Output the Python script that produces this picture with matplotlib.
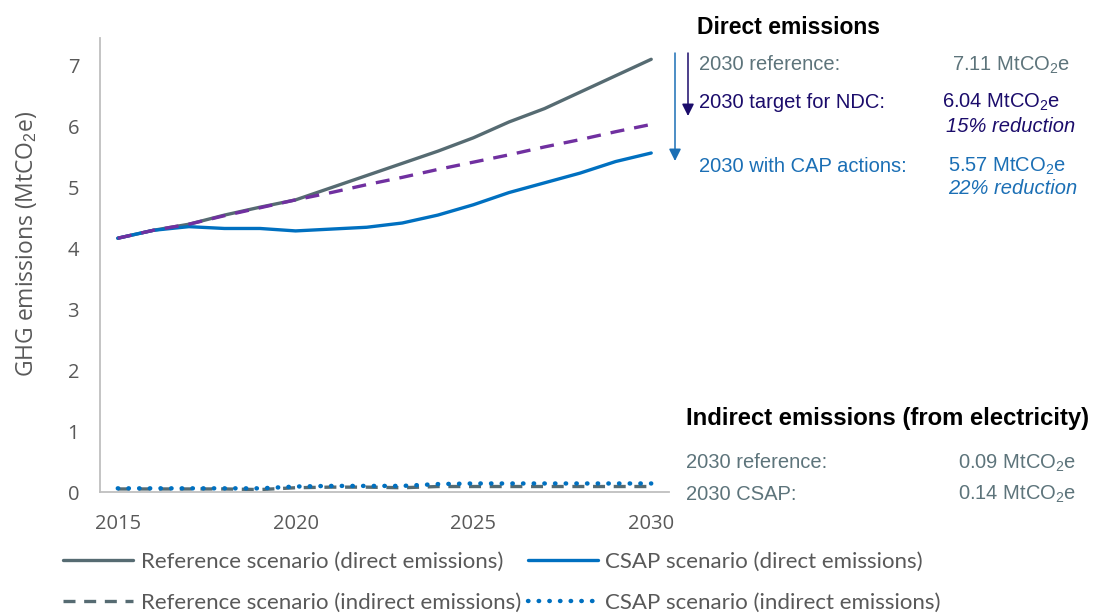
import matplotlib
matplotlib.use("Agg")
import matplotlib.pyplot as plt
from matplotlib.patches import FancyArrowPatch

plt.rcParams["mathtext.fontset"] = "custom"
plt.rcParams["mathtext.rm"] = "Liberation Sans"
plt.rcParams["mathtext.it"] = "Liberation Sans:italic"

years = list(range(2015, 2031))
ref_direct = [4.17, 4.30, 4.40, 4.55, 4.68, 4.80, 5.00, 5.20, 5.40, 5.60, 5.82,
              6.08, 6.30, 6.57, 6.84, 7.11]
csap_direct = [4.17, 4.30, 4.36, 4.33, 4.33, 4.29, 4.32, 4.35, 4.42, 4.55, 4.72,
               4.92, 5.08, 5.24, 5.43, 5.57]
ndc_target = [4.17, 4.30, 4.40, 4.54, 4.67, 4.80, 4.92, 5.05, 5.17, 5.30, 5.42,
              5.54, 5.67, 5.79, 5.92, 6.04]
ref_indirect = [0.05, 0.05, 0.05, 0.05, 0.04, 0.07, 0.08, 0.08, 0.07, 0.09, 0.09,
                0.09, 0.09, 0.09, 0.09, 0.09]
csap_indirect = [0.06, 0.06, 0.06, 0.06, 0.06, 0.09, 0.10, 0.10, 0.10, 0.13, 0.14,
                 0.14, 0.14, 0.14, 0.14, 0.14]
xtick_years = [2015, 2020, 2025, 2030]
yticks = [0, 1, 2, 3, 4, 5, 6, 7]

C_GRAY = "#566B72"
C_BLUE = "#0070C0"
C_PURPLE = "#7030A0"
T_GRAY = "#5D747B"
T_NAVY = "#1B0C6B"
T_BLUE = "#1B6FB5"
AX_TXT = "#595959"

W, H = 1093, 614
fig = plt.figure(figsize=(W / 100, H / 100), dpi=100)
ax = fig.add_axes([100 / W, 1 - 492 / H, 569 / W, (492 - 38) / H])

LW = 2.4
l1, = ax.plot(years, ref_direct, color=C_GRAY, lw=LW, solid_capstyle="round",
              label="Reference scenario (direct emissions)")
l2, = ax.plot(years, csap_direct, color=C_BLUE, lw=LW, solid_capstyle="round",
              label="CSAP scenario (direct emissions)")
ax.plot(years, ndc_target, color=C_PURPLE, lw=LW, dashes=(4.2, 3.0))
l3, = ax.plot(years, ref_indirect, color=C_GRAY, lw=LW, dashes=(3.6, 2.6),
              label="Reference scenario (indirect emissions)")
l4, = ax.plot(years, csap_indirect, color=C_BLUE, lw=3.2, dashes=(0.1, 2.3),
              dash_capstyle="round",
              label="CSAP scenario (indirect emissions)")

ax.set_xlim(2014.5, 2030.5)
ax.set_ylim(0, (492 - 38) / 60.86)
ax.set_xticks(xtick_years)
ax.set_yticks(yticks)
ax.tick_params(axis="y", length=0, labelsize=14.5, labelcolor=AX_TXT, pad=15)
ax.tick_params(axis="x", length=0, labelsize=14.5, labelcolor=AX_TXT, pad=16)
for lab in ax.get_xticklabels() + ax.get_yticklabels():
    lab.set_family("Open Sans")
for s in ["top", "right"]:
    ax.spines[s].set_visible(False)
for s in ["left", "bottom"]:
    ax.spines[s].set_color("#BFBFBF")
    ax.spines[s].set_linewidth(1.3)

fig.text(27 / W, 1 - 244 / H, "GHG emissions (MtCO$_2$e)", rotation=90,
         ha="center", va="center", fontsize=16.5, color=AX_TXT,
         family="Open Sans")

leg = fig.legend(handles=[l1, l3, l2, l4], ncol=2, loc="upper left",
                 bbox_to_anchor=(43 / W, 1 - 532 / H), frameon=False,
                 prop={"family": "Lato", "size": 16},
                 handlelength=3.15, handletextpad=0.35, columnspacing=0.3,
                 labelspacing=0.92)
for t in leg.get_texts():
    t.set_color(AX_TXT)


def ftext(x, y, s, color, size=14.5, **kw):
    fig.text(x / W, 1 - y / H, s, color=color, fontsize=size,
             family="Liberation Sans", va="center", ha="left", **kw)


ftext(697, 27, "Direct emissions", "black", size=16.5, weight="bold")
ftext(699, 65, "2030 reference:", T_GRAY)
ftext(952, 65, "7.11 MtCO$_2$e", T_GRAY)
ftext(699, 102, "2030 target for NDC:", T_NAVY)
ftext(942, 102, "6.04 MtCO$_2$e", T_NAVY)
ftext(946, 126, "15% reduction", T_NAVY, style="italic")
ftext(699, 166, "2030 with CAP actions:", T_BLUE)
ftext(948, 166, "5.57 MtCO$_2$e", T_BLUE)
ftext(948, 189, "22% reduction", T_BLUE, style="italic")

ftext(686, 418, "Indirect emissions (from electricity)", "black", size=17.2,
      weight="bold")
ftext(686, 463, "2030 reference:", T_GRAY)
ftext(958, 463, "0.09 MtCO$_2$e", T_GRAY)
ftext(686, 494, "2030 CSAP:", T_GRAY)
ftext(958, 494, "0.14 MtCO$_2$e", T_GRAY)


def farrow(x, y0, y1, color):
    a = FancyArrowPatch((x / W, 1 - y0 / H), (x / W, 1 - y1 / H),
                        transform=fig.transFigure, arrowstyle="-|>",
                        mutation_scale=18, color=color, lw=1.1,
                        shrinkA=0, shrinkB=0)
    fig.patches.append(a)


farrow(688, 53, 116, T_NAVY)
farrow(675, 53, 161, T_BLUE)

fig.savefig("out.png", dpi=100)
